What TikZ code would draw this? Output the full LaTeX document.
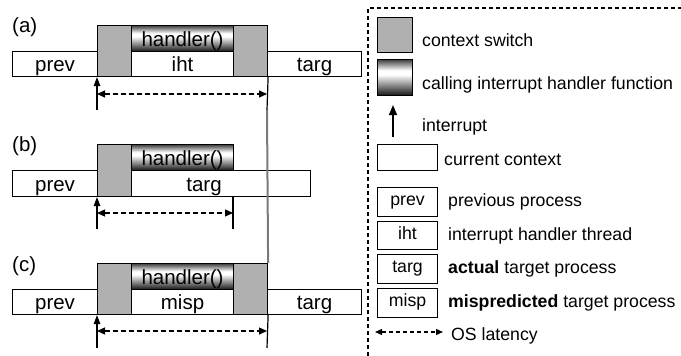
\documentclass[tikz,border=0pt]{standalone}
\usepackage{fontspec}
\setmainfont{Liberation Sans}
\usetikzlibrary{arrows.meta}
\definecolor{csgray}{HTML}{B0B0B0}
\definecolor{vgray}{HTML}{7A7A7A}
\pgfdeclareverticalshading{hshade}{100bp}{color(0bp)=(black); color(25bp)=(black!92); color(54bp)=(white); color(60bp)=(white); color(75bp)=(black!75); color(100bp)=(black!75)}
\newcommand{\pfont}{\fontsize{20.5}{24}\selectfont}
\newcommand{\lfont}{\fontsize{17.7}{21}\selectfont}
\begin{document}
\begin{tikzpicture}[x=1pt,y=-1pt,
  box/.style={draw, line width=1.1pt, inner sep=0pt, anchor=north west, font=\pfont, text height=16pt, text depth=0.5pt},
  cs/.style={box, fill=csgray},
  hd/.style={box, shading=hshade},
  lbox/.style={box, font=\lfont, text height=9.5pt, text depth=2.5pt},
  ltext/.style={anchor=base west, inner sep=0pt, font=\lfont},
  plabel/.style={anchor=base west, inner sep=0pt, font=\fontsize{20.5}{24}\selectfont},
  irq/.style={line width=1.2pt, -{Triangle[length=9pt,width=6.5pt]}},
  tick/.style={line width=1.2pt},
  lat/.style={line width=1.2pt, dash pattern=on 5pt off 3pt, {Triangle[length=8pt,width=7pt]}-{Triangle[length=8pt,width=7pt]}},
  frame/.style={line width=1.1pt, dash pattern=on 4pt off 3pt},
  vline/.style={line width=2pt, draw=vgray}
]
\useasboundingbox (0,0) rectangle (681,356);

% ---------- panel (a)
\node[plabel] (la) at (12,32) {(a)};
\node[cs, minimum width=34pt, minimum height=51pt] (csA1) at (97,25) {};
\node[cs, minimum width=34pt, minimum height=51pt] (csA2) at (233,25) {};
\node[hd, minimum width=102pt, minimum height=26pt] (hA) at (131,25) {handler()};
\node[box, minimum width=102pt, minimum height=25pt] (ihtA) at (131,51) {iht};
\node[box, minimum width=85pt, minimum height=25pt] (prevA) at (12,51) {prev};
\node[box, minimum width=94pt, minimum height=25pt] (targA) at (267,51) {targ};
\coordinate (irqA) at (97,110);
\coordinate (endA) at (267,110);
\coordinate (lA1) at (97,94);
\coordinate (lA2) at (267,94);

% ---------- panel (b)
\node[plabel] (lb) at (12,151) {(b)};
\node[box, minimum width=213pt, minimum height=26pt] (targB) at (97,170) {targ};
\node[cs, minimum width=34pt, minimum height=52pt] (csB) at (97,144) {};
\node[hd, minimum width=102pt, minimum height=26pt] (hB) at (131,144) {handler()};
\node[box, minimum width=85pt, minimum height=26pt] (prevB) at (12,170) {prev};
\coordinate (irqB) at (97,229);
\coordinate (endB) at (233,229);
\coordinate (tB) at (233,196);
\coordinate (lB1) at (97,213);
\coordinate (lB2) at (233,213);

% ---------- panel (c)
\node[plabel] (lc) at (12,271) {(c)};
\node[cs, minimum width=34pt, minimum height=51pt] (csC1) at (97,263) {};
\node[cs, minimum width=34pt, minimum height=51pt] (csC2) at (233,263) {};
\node[hd, minimum width=102pt, minimum height=26pt] (hC) at (131,263) {handler()};
\node[box, minimum width=102pt, minimum height=25pt] (mispC) at (131,289) {misp};
\node[box, minimum width=85pt, minimum height=25pt] (prevC) at (12,289) {prev};
\node[box, minimum width=94pt, minimum height=25pt] (targC) at (267,289) {targ};
\coordinate (irqC) at (97,348);
\coordinate (endC) at (267,348);
\coordinate (lC1) at (97,331);
\coordinate (lC2) at (267,331);

% long gray line
\draw[vline] (endA) -- (csC2.north east);

% connectors
\draw[irq] (irqA) -- (csA1.south west);
\draw[tick] (csA2.south east) -- (endA);
\draw[lat] (lA1) -- (lA2);
\draw[irq] (irqB) -- (csB.south west);
\draw[tick] (tB) -- (endB);
\draw[lat] (lB1) -- (lB2);
\draw[irq] (irqC) -- (csC1.south west);
\draw[tick] (csC2.south east) -- (endC);
\draw[lat] (lC1) -- (lC2);

% ---------- legend
\coordinate (f1) at (368,356);
\coordinate (f2) at (368,8);
\coordinate (f3) at (681,8);
\draw[frame] (f1) -- (f2) -- (f3);

\node[cs, minimum width=35pt, minimum height=35pt] (lgCS) at (377,17) {};
\node[ltext] (tCS) at (422,46) {context switch};
\node[hd, minimum width=35pt, minimum height=36pt] (lgH) at (377,59) {};
\node[ltext] (tH) at (422,89) {calling interrupt handler function};
\coordinate (la1) at (393,137);
\coordinate (la2) at (393,105);
\draw[line width=1.3pt, -{Triangle[length=10pt,width=8pt]}] (la1) -- (la2);
\node[ltext] (tI) at (422,131) {interrupt};
\node[lbox, minimum width=60pt, minimum height=26pt] (lgCur) at (377,144) {};
\node[ltext] (tCur) at (444,165) {current context};

\node[lbox, minimum width=60pt, minimum height=29pt] (lgPrev) at (377,187) {prev};
\node[ltext] (tPrev) at (448,206) {previous process};
\node[lbox, minimum width=60pt, minimum height=28pt] (lgIht) at (377,221) {iht};
\node[ltext] (tIht) at (448,240) {interrupt handler thread};
\node[lbox, minimum width=60pt, minimum height=29pt] (lgTarg) at (377,254) {targ};
\node[ltext] (tTarg) at (448,273) {\textbf{actual} target process};
\node[lbox, minimum width=60pt, minimum height=29pt] (lgMisp) at (377,288) {misp};
\node[ltext] (tMisp) at (448,307) {\textbf{mispredicted} target process};
\coordinate (os1) at (375,332);
\coordinate (os2) at (443,332);
\draw[line width=1.2pt, dash pattern=on 4pt off 3pt, {Triangle[length=7pt,width=6pt]}-{Triangle[length=7pt,width=6pt]}] (os1) -- (os2);
\node[ltext] (tOS) at (451,340) {OS latency};
\end{tikzpicture}
\end{document}
